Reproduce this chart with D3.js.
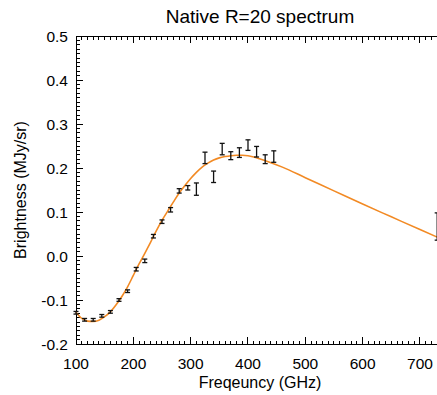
<!DOCTYPE html>
<html>
<head>
<meta charset="utf-8">
<script src="https://cdn.jsdelivr.net/npm/d3@7"></script>
<style>
  html, body { margin: 0; padding: 0; background: #fff; }
  svg { display: block; }
  text { font-family: "Liberation Sans", Arial, Helvetica, sans-serif; fill: #000; }
</style>
</head>
<body>
<svg id="chart" width="437" height="395"></svg>
<script>
// ---- data ----
const title = "Native R=20 spectrum";
const xTitle = "Freqeuncy (GHz)";
const yTitle = "Brightness (MJy/sr)";
const xTickValues = [100, 200, 300, 400, 500, 600, 700];
const yTickValues = [-0.2, -0.1, 0.0, 0.1, 0.2, 0.3, 0.4, 0.5];
const yTickLabels = ["-0.2", "-0.1", "0.0", "0.1", "0.2", "0.3", "0.4", "0.5"];

// measured points
const pointFreq = [100, 115, 130, 145, 160, 175, 190, 205, 220, 235, 250, 265,
                   280, 295, 310, 325, 340, 355, 370, 385, 400, 415, 430, 445, 730];
const pointValue = [-0.129, -0.145, -0.145, -0.136, -0.127, -0.100, -0.080, -0.030,
                    -0.011, 0.045, 0.078, 0.105, 0.148, 0.155, 0.152, 0.223,
                    0.180, 0.243, 0.228, 0.235, 0.252, 0.237, 0.220, 0.226, 0.067];
const pointError = [0.003, 0.003, 0.003, 0.003, 0.003, 0.003, 0.003, 0.004,
                    0.004, 0.004, 0.004, 0.005, 0.005, 0.005, 0.014, 0.013,
                    0.013, 0.013, 0.009, 0.011, 0.012, 0.012, 0.010, 0.013, 0.031];

// model curve
const modelFreq = [100, 110, 120, 130, 140, 150, 160, 170, 180, 190, 200, 210, 220,
                   230, 240, 250, 260, 270, 280, 290, 300, 310, 320, 330, 340, 350,
                   360, 370, 380, 390, 400, 410, 420, 440, 460, 500, 550, 600, 650,
                   700, 730];
const modelValue = [-0.128, -0.142, -0.148, -0.149, -0.146, -0.138, -0.127, -0.111,
                    -0.092, -0.070, -0.044, -0.018, 0.006, 0.031, 0.057, 0.081,
                    0.102, 0.123, 0.143, 0.160, 0.176, 0.190, 0.202, 0.211, 0.218,
                    0.223, 0.226, 0.228, 0.229, 0.229, 0.228, 0.225, 0.221, 0.212,
                    0.202, 0.178, 0.148, 0.118, 0.089, 0.060, 0.043];

// ---- layout ----
const svg = d3.select("#chart");
const pLeft = 76, pTop = 36, pBottom = 344;
const x = d3.scaleLinear().domain([100, 750]).range([pLeft, pLeft + 650 * 0.5733]);
const y = d3.scaleLinear().domain([-0.2, 0.5]).range([pBottom, pTop]);
const pRight = x(750);

const g = svg.append("g");

// minor/major ticks (inward, IDL style)
const xMinor = d3.range(100, 751, 10);
const yMinor = d3.range(-20, 51, 1).map(d => d / 100);
const majLen = 7, minLen = 3.5;
const isMajorX = v => Math.abs(v % 100) < 1e-6;
const isMajorY = v => Math.abs(Math.round(v * 100) % 10) === 0;

const ticks = g.append("g").attr("stroke", "#000").attr("stroke-width", 1).attr("shape-rendering", "crispEdges");
xMinor.forEach(v => {
  const L = isMajorX(v) ? majLen : minLen;
  ticks.append("line").attr("x1", x(v)).attr("x2", x(v)).attr("y1", pBottom).attr("y2", pBottom - L);
  ticks.append("line").attr("x1", x(v)).attr("x2", x(v)).attr("y1", pTop).attr("y2", pTop + L);
});
yMinor.forEach(v => {
  const L = isMajorY(v) ? majLen : minLen;
  ticks.append("line").attr("x1", pLeft).attr("x2", pLeft + L).attr("y1", y(v)).attr("y2", y(v));
  ticks.append("line").attr("x1", pRight).attr("x2", pRight - L).attr("y1", y(v)).attr("y2", y(v));
});

// frame
g.append("rect").attr("x", pLeft).attr("y", pTop).attr("width", pRight - pLeft).attr("height", pBottom - pTop)
  .attr("fill", "none").attr("stroke", "#000").attr("stroke-width", 1).attr("shape-rendering", "crispEdges");

// tick labels
g.selectAll(".xl").data(xTickValues).enter().append("text")
  .attr("x", d => x(d)).attr("y", pBottom + 25).attr("text-anchor", "middle")
  .attr("font-size", 15.5).text(d => d);
g.selectAll(".yl").data(yTickValues).enter().append("text")
  .attr("x", pLeft - 8).attr("y", d => y(d) + 5.5).attr("text-anchor", "end")
  .attr("font-size", 15.5).text((d, i) => yTickLabels[i]);

// titles
svg.append("text").attr("x", 260).attr("y", 23).attr("text-anchor", "middle")
  .attr("font-size", 19).text(title);
svg.append("text").attr("x", 260).attr("y", 388).attr("text-anchor", "middle")
  .attr("font-size", 16).text(xTitle);
svg.append("text").attr("transform", `translate(26,${(pTop + pBottom) / 2}) rotate(-90)`)
  .attr("text-anchor", "middle").attr("font-size", 16).text(yTitle);

// model curve
const model = modelFreq.map((f, i) => [f, modelValue[i]]);
g.append("path").datum(model)
  .attr("fill", "none").attr("stroke", "#f28a24").attr("stroke-width", 1.6)
  .attr("d", d3.line().x(d => x(d[0])).y(d => y(d[1])).curve(d3.curveMonotoneX));

// error bars
const pts = pointFreq.map((f, i) => ({ f, v: pointValue[i], e: pointError[i] }));
const eb = g.append("g").attr("stroke", "#111").attr("stroke-width", 1.3);
pts.forEach(p => {
  const cx = x(p.f), y1 = y(p.v - p.e), y2 = y(p.v + p.e);
  eb.append("line").attr("x1", cx).attr("x2", cx).attr("y1", y1).attr("y2", y2);
  eb.append("line").attr("x1", cx - 2.5).attr("x2", cx + 2.5).attr("y1", y1).attr("y2", y1);
  eb.append("line").attr("x1", cx - 2.5).attr("x2", cx + 2.5).attr("y1", y2).attr("y2", y2);
});
</script>
</body>
</html>
